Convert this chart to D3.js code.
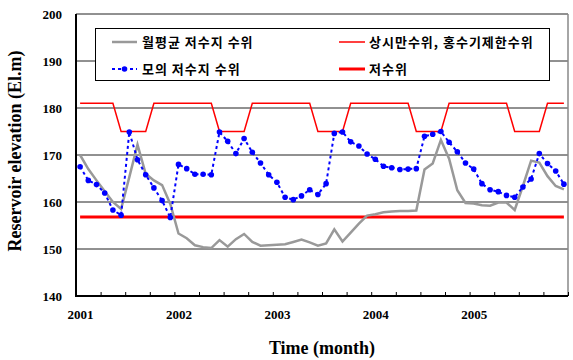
<!DOCTYPE html>
<html>
<head>
<meta charset="utf-8">
<script src="https://cdn.jsdelivr.net/npm/d3@7"></script>
<style>
	body { margin: 0; background: #fff; }
	svg { display: block; }
	.tickLabel { font-family: "Liberation Serif", "Times New Roman", serif; font-weight: bold; font-size: 13px; }
	.axisTitle { font-family: "Liberation Serif", "Times New Roman", serif; font-weight: bold; font-size: 18px; }
	.legendText { font-family: "Noto Sans CJK KR", sans-serif; font-weight: bold; font-size: 13px; letter-spacing: 1px; }
</style>
</head>
<body>
<script>
// Years on the x axis (label sits on the January of each year)
var years = ["2001", "2002", "2003", "2004", "2005"];
var yTicks = [140, 150, 160, 170, 180, 190, 200];

// 월평균 저수지 수위 (observed monthly mean), Jan 2001 .. Dec 2005
var observed = [
	170.0, 167.0, 164.6, 162.3, 160.0, 158.5, 165.3, 172.2, 166.0, 164.6, 163.6, 159.6,
	153.3, 152.3, 150.8, 150.4, 150.2, 151.9, 150.5, 152.1, 153.2, 151.5, 150.7, 150.8,
	150.9, 151.0, 151.5, 152.0, 151.4, 150.7, 151.2, 154.2, 151.6, 153.5, 155.4, 157.1,
	157.4, 157.8, 158.0, 158.1, 158.1, 158.2, 166.9, 168.2, 173.2, 169.2, 162.5, 159.8,
	159.7, 159.3, 159.2, 159.9, 159.9, 158.3, 163.4, 168.8, 168.4, 165.5, 163.4, 162.7
];

// 모의 저수지 수위 (simulated)
var simulated = [
	167.5, 164.6, 163.7, 161.9, 158.3, 157.2, 174.9, 169.0, 165.8, 163.0, 160.3, 156.7,
	168.0, 167.1, 165.9, 165.9, 165.8, 174.9, 172.9, 170.3, 173.5, 170.6, 168.3, 165.8,
	164.2, 161.0, 160.5, 161.3, 162.6, 161.6, 163.9, 174.6, 174.9, 172.8, 171.9, 170.2,
	169.1, 167.6, 167.3, 166.9, 167.0, 167.1, 174.0, 174.4, 175.0, 172.7, 170.7, 168.3,
	167.0, 163.9, 162.6, 162.2, 161.4, 161.0, 163.2, 164.9, 170.3, 168.2, 166.6, 163.8
];

// 상시만수위, 홍수기제한수위 (normal high / flood season limit)
var upperLimit = [
	181, 181, 181, 181, 181, 175, 175, 175, 175, 181, 181, 181,
	181, 181, 181, 181, 181, 175, 175, 175, 175, 181, 181, 181,
	181, 181, 181, 181, 181, 175, 175, 175, 175, 181, 181, 181,
	181, 181, 181, 181, 181, 175, 175, 175, 175, 181, 181, 181,
	181, 181, 181, 181, 181, 175, 175, 175, 175, 181, 181, 181
];

// 저수위 (low water level)
var lowLevel = 156.8;

var width = 573, height = 360;
var svg = d3.select("body").append("svg").attr("width", width).attr("height", height);

var x = d3.scaleLinear().domain([0, 60]).range([76, 568]);
var y = d3.scaleLinear().domain([140, 200]).range([296, 14]);

// Gridlines
svg.selectAll(".grid").data([150, 160, 170, 180, 190]).enter()
	.append("line").classed("grid", true)
	.attr("x1", x(0)).attr("x2", x(60))
	.attr("y1", function(d) { return y(d); }).attr("y2", function(d) { return y(d); })
	.attr("stroke", "#222").attr("stroke-width", 1);

// Plot border (top, right)
svg.append("line").attr("x1", x(0)).attr("x2", x(60)).attr("y1", y(200)).attr("y2", y(200))
	.attr("stroke", "#222").attr("stroke-width", 1);
svg.append("line").attr("x1", x(60)).attr("x2", x(60)).attr("y1", y(200)).attr("y2", y(140))
	.attr("stroke", "#888").attr("stroke-width", 1.5);

// Y axis labels
var yAxis = d3.axisLeft(y).tickValues(yTicks).tickSize(0).tickPadding(14);
var gy = svg.append("g").attr("transform", "translate(" + x(0) + ",0)").call(yAxis);
gy.select(".domain").remove();
gy.selectAll("text").classed("tickLabel", true).attr("fill", "#000");

// X axis: quarterly inside ticks
var xTicks = d3.axisBottom(x).tickValues(d3.range(0, 61, 3)).tickSize(-4).tickFormat("");
var gx = svg.append("g").attr("transform", "translate(0," + y(140) + ")").call(xTicks);
gx.select(".domain").remove();
gx.selectAll("line").attr("stroke", "#000").attr("stroke-width", 1);

// Year labels
var xLabels = d3.axisBottom(x).tickValues(years.map(function(d, i) { return i * 12 + 0.5; }))
	.tickSize(0).tickPadding(14).tickFormat(function(d, i) { return years[i]; });
var gl = svg.append("g").attr("transform", "translate(0," + y(140) + ")").call(xLabels);
gl.select(".domain").remove();
gl.selectAll("text").classed("tickLabel", true).attr("fill", "#000");

// Axis lines
svg.append("line").attr("x1", x(0)).attr("x2", x(0)).attr("y1", y(200)).attr("y2", y(140) + 1)
	.attr("stroke", "#000").attr("stroke-width", 2);
svg.append("line").attr("x1", x(0)).attr("x2", x(60)).attr("y1", y(140)).attr("y2", y(140))
	.attr("stroke", "#000").attr("stroke-width", 2);

// Titles
svg.append("text").classed("axisTitle", true).attr("x", (x(0) + x(60)) / 2).attr("y", 354)
	.attr("text-anchor", "middle").text("Time (month)");
svg.append("text").classed("axisTitle", true)
	.attr("transform", "translate(21,151) rotate(-90)")
	.attr("text-anchor", "middle").text("Reservoir elevation (El.m)");

// Lines
var line = d3.line()
	.x(function(d, i) { return x(i + 0.5); })
	.y(function(d) { return y(d); });

svg.append("path").datum(upperLimit).attr("d", line)
	.attr("fill", "none").attr("stroke", "#ff0000").attr("stroke-width", 1.5);

svg.append("line").attr("x1", x(0.5)).attr("x2", x(59.5)).attr("y1", y(lowLevel)).attr("y2", y(lowLevel))
	.attr("stroke", "#ff0000").attr("stroke-width", 3);

svg.append("path").datum(observed).attr("d", line)
	.attr("fill", "none").attr("stroke", "#999").attr("stroke-width", 2.5)
	.attr("stroke-linejoin", "miter");

svg.append("path").datum(simulated).attr("d", line)
	.attr("fill", "none").attr("stroke", "#0000ff").attr("stroke-width", 2)
	.attr("stroke-dasharray", "3,3");

svg.selectAll(".simDot").data(simulated).enter()
	.append("circle").classed("simDot", true)
	.attr("cx", function(d, i) { return x(i + 0.5); })
	.attr("cy", function(d) { return y(d); })
	.attr("r", 2.8).attr("fill", "#0000ff");

// Legend
var legend = svg.append("g");
legend.append("rect").attr("x", 95.5).attr("y", 28.5).attr("width", 454).attr("height", 52)
	.attr("fill", "#fff").attr("stroke", "#000").attr("stroke-width", 1);

legend.append("line").attr("x1", 112).attr("x2", 137).attr("y1", 42).attr("y2", 42)
	.attr("stroke", "#999").attr("stroke-width", 2.5);
legend.append("text").classed("legendText", true).attr("x", 142).attr("y", 47).text("월평균 저수지 수위");

legend.append("line").attr("x1", 112).attr("x2", 137).attr("y1", 69).attr("y2", 69)
	.attr("stroke", "#0000ff").attr("stroke-width", 2).attr("stroke-dasharray", "3,3");
legend.append("circle").attr("cx", 124.5).attr("cy", 69).attr("r", 2.8).attr("fill", "#0000ff");
legend.append("text").classed("legendText", true).attr("x", 142).attr("y", 74).text("모의 저수지 수위");

legend.append("line").attr("x1", 339).attr("x2", 365).attr("y1", 42).attr("y2", 42)
	.attr("stroke", "#ff0000").attr("stroke-width", 1.5);
legend.append("text").classed("legendText", true).attr("x", 369).attr("y", 47).text("상시만수위, 홍수기제한수위");

legend.append("line").attr("x1", 339).attr("x2", 365).attr("y1", 69).attr("y2", 69)
	.attr("stroke", "#ff0000").attr("stroke-width", 3);
legend.append("text").classed("legendText", true).attr("x", 369).attr("y", 74).text("저수위");
</script>
</body>
</html>
